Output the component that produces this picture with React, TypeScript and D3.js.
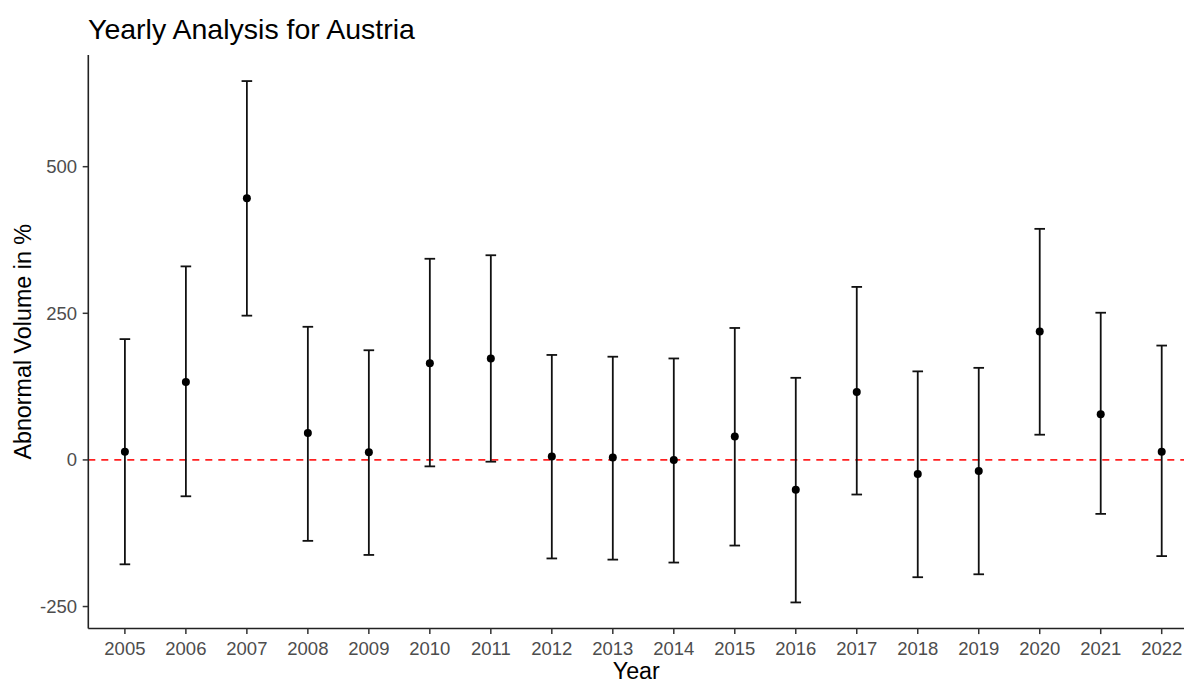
import React from "react";
import * as d3 from "d3";

// Yearly abnormal trading volume estimates (%) with confidence bounds
const years = ["2005", "2006", "2007", "2008", "2009", "2010", "2011", "2012", "2013", "2014", "2015", "2016", "2017", "2018", "2019", "2020", "2021", "2022"];
const estimates = [14, 133, 446, 46, 13, 165, 173, 6, 4, 0, 40, -51, 116, -24, -19, 219, 78, 14];
const upperBounds = [206, 330, 646, 227, 187, 343, 349, 179, 176, 173, 225, 140, 295, 151, 157, 394, 251, 195];
const lowerBounds = [-178, -62, 246, -138, -162, -11, -3, -168, -170, -175, -146, -243, -59, -200, -195, 43, -92, -164];
const yTicks = [-250, 0, 250, 500];

const W = 1184;
const H = 684;
const FONT = "'Liberation Sans', Arial, sans-serif";

export default function App() {
  const left = 88.3;
  const right = 1198.3;
  const top = 55;
  const bottom = 628.5;

  const x = d3.scalePoint<string>().domain(years).range([left, right]).padding(0.6);

  const lo = d3.min(lowerBounds) as number;
  const hi = d3.max(upperBounds) as number;
  const pad = (hi - lo) * 0.05;
  const y = d3.scaleLinear().domain([lo - pad, hi + pad]).range([bottom, top]);

  const capHalf = 5.3;
  const rows = years.map((yr, i) => ({ yr, est: estimates[i], up: upperBounds[i], low: lowerBounds[i] }));

  return (
    <svg width={W} height={H} style={{ position: "absolute", left: 0, top: 0, background: "#fff" }} fontFamily={FONT}>
      <rect x={0} y={0} width={W} height={H} fill="#fff" />

      {/* title */}
      <text x={88} y={39} fontSize={28.5} fill="#000">Yearly Analysis for Austria</text>

      {/* zero reference line */}
      <line x1={left} x2={W} y1={y(0)} y2={y(0)} stroke="#ff2020" strokeWidth={1.9} strokeDasharray="7 6" />

      {/* error bars */}
      {rows.map((r) => {
        const cx = x(r.yr) as number;
        return (
          <g key={r.yr} stroke="#111" strokeWidth={1.8}>
            <line x1={cx} x2={cx} y1={y(r.up)} y2={y(r.low)} />
            <line x1={cx - capHalf} x2={cx + capHalf} y1={y(r.up)} y2={y(r.up)} />
            <line x1={cx - capHalf} x2={cx + capHalf} y1={y(r.low)} y2={y(r.low)} />
          </g>
        );
      })}

      {/* point estimates */}
      {rows.map((r) => (
        <circle key={r.yr} cx={x(r.yr) as number} cy={y(r.est)} r={4} fill="#000" />
      ))}

      {/* axes */}
      <line x1={left} x2={left} y1={top} y2={bottom} stroke="#222" strokeWidth={1.6} />
      <line x1={left} x2={W} y1={bottom} y2={bottom} stroke="#222" strokeWidth={1.6} />

      {yTicks.map((t) => (
        <g key={t}>
          <line x1={left - 5.6} x2={left} y1={y(t)} y2={y(t)} stroke="#333" strokeWidth={1.5} />
          <text x={77} y={y(t)} textAnchor="end" dominantBaseline="central" fontSize={18.5} fill="#4d4d4d">
            {t}
          </text>
        </g>
      ))}

      {years.map((yr) => (
        <g key={yr}>
          <line x1={x(yr) as number} x2={x(yr) as number} y1={bottom} y2={bottom + 5.6} stroke="#333" strokeWidth={1.5} />
          <text x={x(yr) as number} y={655} textAnchor="middle" fontSize={18.5} fill="#4d4d4d">
            {yr}
          </text>
        </g>
      ))}

      {/* axis titles */}
      <text x={(left + right) / 2 - 7} y={679} textAnchor="middle" fontSize={23.3} fill="#000">Year</text>
      <text
        transform={`translate(30.5, ${(top + bottom) / 2}) rotate(-90)`}
        textAnchor="middle"
        fontSize={23.3}
        fill="#000"
      >
        Abnormal Volume in %
      </text>
    </svg>
  );
}
